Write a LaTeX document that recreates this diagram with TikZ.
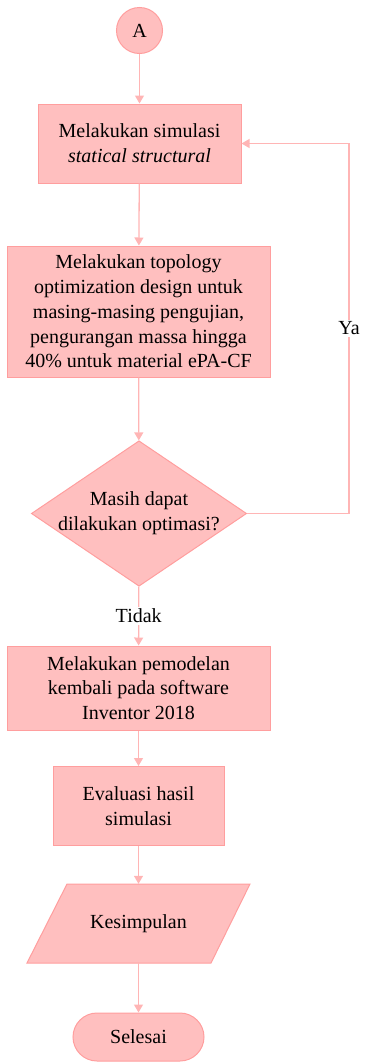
\documentclass[tikz,border=0pt]{standalone}
\usepackage{fontspec}
\setmainfont{Liberation Serif}
\usepackage{tikz}
\usetikzlibrary{shapes.geometric,arrows.meta}
\definecolor{isi}{HTML}{FFBFBF}
\definecolor{tepi}{HTML}{FF9E9E}
\definecolor{garis}{HTML}{FFB5B5}

\tikzset{
  proses/.style={draw=tepi,fill=isi,line width=1pt,align=center,inner sep=0pt},
  keputusan/.style={draw=tepi,fill=isi,line width=1pt,align=center,diamond,inner sep=-2pt,aspect=1.48},
  data/.style={align=center,inner sep=0pt},
  jajar/.style={draw=tepi,fill=isi,line width=1pt},
  konektor/.style={draw=tepi,fill=isi,line width=1pt,circle,inner sep=0pt,minimum size=46},
  terminal/.style={draw=tepi,fill=isi,line width=1pt,rounded corners=24pt,inner sep=0pt},
  alir/.style={draw=garis,line width=1.3pt,-{Triangle[width=9pt,length=8pt]}},
  lbl/.style={fill=white,inner sep=2pt}
}

\begin{document}
\begin{tikzpicture}[x=1pt,y=-1pt,font=\fontsize{20}{24.8}\selectfont]
\useasboundingbox (0,0) rectangle (365,1063);
\node[konektor] (a) at (139.5,30.5) {A};
\node[proses,minimum width=203,minimum height=79] (sim) at (139.5,143.5) {Melakukan simulasi\\\textit{statical structural}};
\node[proses,minimum width=263,minimum height=131] (topo) at (138.5,311.5) {Melakukan topology\\optimization design untuk\\masing-masing pengujian,\\pengurangan massa hingga\\40\% untuk material ePA-CF};
\node[keputusan,minimum width=214,minimum height=145] (opt) at (139,513.5) {Masih dapat\\dilakukan optimasi?};
\node[proses,minimum width=263,minimum height=84] (model) at (138.5,688) {Melakukan pemodelan\\kembali pada software\\Inventor 2018};
\node[proses,minimum width=171,minimum height=79] (eval) at (138.5,806) {Evaluasi hasil\\simulasi};
% jajaran genjang untuk output
\draw[jajar] (27,963) -- (67,884) -- (250,884) -- (211,963) -- cycle;
\node[data,minimum width=223,minimum height=79] (kes) at (138.5,923.5) {Kesimpulan};
\node[terminal,minimum width=131,minimum height=48] (end) at (138.5,1037) {Selesai};
\coordinate (balik) at (349,0);

\draw[alir] (a) -- (sim);
\draw[alir] (sim) -- (topo);
\draw[alir] (topo) -- (opt);
\draw[alir] (opt) -- node[lbl] {Tidak} (model);
\draw[alir] (opt.east) -- (opt.east -| balik) -- node[lbl] {Ya} (sim.east -| balik) -- (sim.east);
\draw[alir] (model) -- (eval);
\draw[alir] (eval) -- (kes);
\draw[alir] (kes) -- (end);
\end{tikzpicture}
\end{document}
